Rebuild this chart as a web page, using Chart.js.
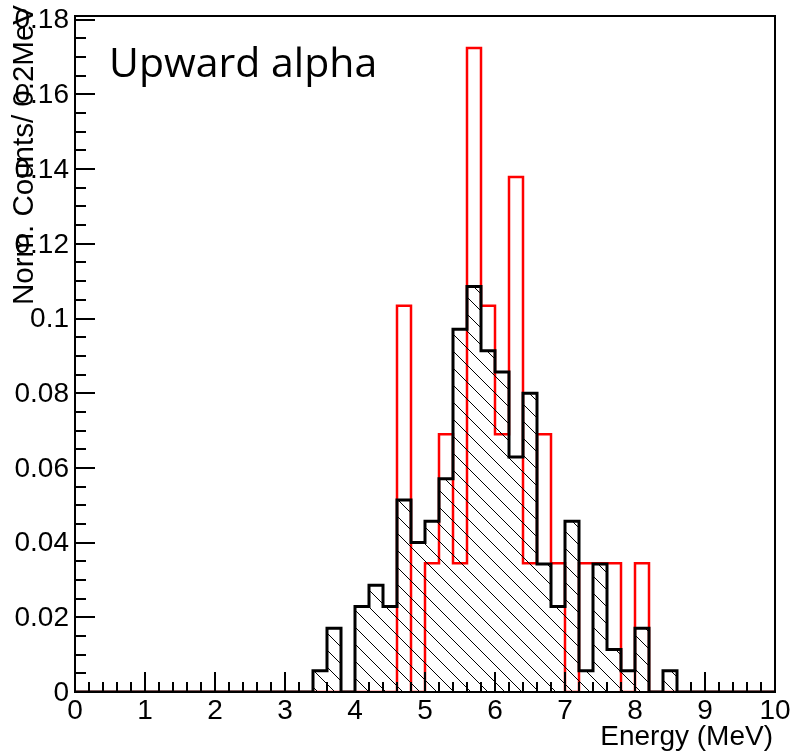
<!DOCTYPE html>
<html>
<head>
<meta charset="utf-8">
<script src="https://cdn.jsdelivr.net/npm/chart.js@4.4.1/dist/chart.umd.min.js"></script>
<style>
    html, body { margin: 0; padding: 0; background: #fff; }
    #wrap { width: 794px; height: 755px; }
</style>
</head>
<body>
<div id="wrap"><canvas id="histChart" width="794" height="755"></canvas></div>
<script>
// Histogram binning (0.2 MeV bins from 0 to 10 MeV)
const binWidth = 0.2;
const binCount = 50;

// Black (hatched) histogram, normalised counts per bin
const blackValues = [
    0, 0, 0, 0, 0, 0, 0, 0, 0, 0,
    0, 0, 0, 0, 0, 0, 0, 0.0057, 0.0171, 0,
    0.0229, 0.0286, 0.0229, 0.0514, 0.0400, 0.0457, 0.0571, 0.0971, 0.1086, 0.0914,
    0.0857, 0.0629, 0.0800, 0.0343, 0.0229, 0.0457, 0.0057, 0.0343, 0.0114, 0.0057,
    0.0171, 0, 0.0057, 0, 0, 0, 0, 0, 0, 0
];

// Red (outline) histogram, normalised counts per bin
const redValues = [
    0, 0, 0, 0, 0, 0, 0, 0, 0, 0,
    0, 0, 0, 0, 0, 0, 0, 0, 0, 0,
    0, 0, 0, 0.1034, 0, 0.0345, 0.0690, 0.0345, 0.1724, 0.1034,
    0.0690, 0.1379, 0.0345, 0.0690, 0.0345, 0, 0.0345, 0.0345, 0.0345, 0,
    0.0345, 0, 0, 0, 0, 0, 0, 0, 0, 0
];

// Axis tick labels
const xTickValues = [0, 1, 2, 3, 4, 5, 6, 7, 8, 9, 10];
const yTickValues = [0, 0.02, 0.04, 0.06, 0.08, 0.1, 0.12, 0.14, 0.16, 0.18];
const xMinorStep = 0.2;
const yMinorStep = 0.005;

const xTitle = 'Energy (MeV)';
const yTitle = 'Norm. Counts/ 0.2MeV';
const labelText = 'Upward alpha';

const axisFont = '28px "Liberation Sans", Arial, Helvetica, sans-serif';

// Build step points from bin low edges (last point closes the final bin)
function toStepPoints(values) {
    const pts = values.map((v, i) => ({ x: Number((i * binWidth).toFixed(1)), y: v }));
    pts.push({ x: Number((binCount * binWidth).toFixed(1)), y: values[values.length - 1] });
    return pts;
}

// Diagonal "\\" hatching like ROOT fill style 3004
function makeHatch(spacing) {
    const c = document.createElement('canvas');
    c.width = spacing;
    c.height = spacing;
    const g = c.getContext('2d');
    g.strokeStyle = '#000';
    g.lineWidth = 1;
    g.beginPath();
    g.moveTo(0, 0);
    g.lineTo(spacing, spacing);
    g.moveTo(-2, spacing - 2);
    g.lineTo(2, spacing + 2);
    g.moveTo(spacing - 2, -2);
    g.lineTo(spacing + 2, 2);
    g.stroke();
    return g.createPattern(c, 'repeat');
}

function fmtTick(v) {
    return String(Number(v.toFixed(3)));
}

// Frame, inward ticks, tick labels and titles (ROOT look)
const rootAxes = {
    id: 'rootAxes',
    afterDraw(chart) {
        const ctx = chart.ctx;
        const xs = chart.scales.x;
        const ys = chart.scales.y;
        const area = chart.chartArea;

        ctx.save();
        ctx.strokeStyle = '#000';
        ctx.fillStyle = '#000';

        // frame
        ctx.lineWidth = 2;
        ctx.strokeRect(area.left, area.top, area.right - area.left, area.bottom - area.top);

        // x ticks
        ctx.beginPath();
        for (let i = 0; i < xTickValues.length; i++) {
            const px = Math.round(xs.getPixelForValue(xTickValues[i]));
            ctx.moveTo(px, area.bottom);
            ctx.lineTo(px, area.bottom - 20);
            if (i < xTickValues.length - 1) {
                for (let v = xTickValues[i] + xMinorStep; v < xTickValues[i + 1] - 1e-6; v += xMinorStep) {
                    const mx = Math.round(xs.getPixelForValue(v));
                    ctx.moveTo(mx, area.bottom);
                    ctx.lineTo(mx, area.bottom - 10);
                }
            }
        }
        // y ticks
        for (let i = 0; i < yTickValues.length; i++) {
            const py = Math.round(ys.getPixelForValue(yTickValues[i]));
            ctx.moveTo(area.left, py);
            ctx.lineTo(area.left + 20, py);
            const next = i < yTickValues.length - 1 ? yTickValues[i + 1] : ys.max;
            for (let v = yTickValues[i] + yMinorStep; v < next - 1e-6; v += yMinorStep) {
                const my = Math.round(ys.getPixelForValue(v));
                ctx.moveTo(area.left, my);
                ctx.lineTo(area.left + 11, my);
            }
        }
        ctx.stroke();

        // tick labels
        ctx.font = axisFont;
        ctx.textAlign = 'center';
        ctx.textBaseline = 'alphabetic';
        xTickValues.forEach(v => {
            ctx.fillText(fmtTick(v), xs.getPixelForValue(v), 719);
        });
        ctx.textAlign = 'right';
        ctx.textBaseline = 'middle';
        yTickValues.forEach(v => {
            ctx.fillText(fmtTick(v), 69, ys.getPixelForValue(v) + 1);
        });

        // axis titles
        ctx.textBaseline = 'alphabetic';
        ctx.textAlign = 'right';
        ctx.fillText(xTitle, 773, 745);

        ctx.save();
        ctx.font = '29.5px "Liberation Sans", Arial, Helvetica, sans-serif';
        ctx.translate(33, 5);
        ctx.rotate(-Math.PI / 2);
        ctx.textAlign = 'right';
        ctx.fillText(yTitle, 0, 0);
        ctx.restore();

        // in-plot label
        ctx.font = '41px "Open Sans", "Noto Sans", sans-serif';
        ctx.textAlign = 'left';
        ctx.fillText(labelText, 109, 77);

        ctx.restore();
    }
};

const hatch = makeHatch(17);

const histChart = new Chart(document.getElementById('histChart').getContext('2d'), {
    type: 'line',
    data: {
        datasets: [{
            label: 'black',
            data: toStepPoints(blackValues),
            stepped: 'before',
            borderColor: '#000',
            borderWidth: 3,
            backgroundColor: hatch,
            fill: 'origin',
            pointRadius: 0,
            borderJoinStyle: 'miter',
            order: 0
        }, {
            label: 'red',
            data: toStepPoints(redValues),
            stepped: 'before',
            borderColor: '#ff0000',
            borderWidth: 2.5,
            fill: false,
            pointRadius: 0,
            borderJoinStyle: 'miter',
            order: 1
        }]
    },
    options: {
        responsive: false,
        animation: false,
        layout: {
            padding: { left: 75, top: 16, right: 19, bottom: 63 }
        },
        scales: {
            x: { type: 'linear', min: 0, max: 10, display: false },
            y: { type: 'linear', min: 0, max: 0.181, display: false }
        },
        plugins: {
            legend: { display: false },
            tooltip: { enabled: false }
        }
    },
    plugins: [rootAxes]
});
</script>
</body>
</html>
